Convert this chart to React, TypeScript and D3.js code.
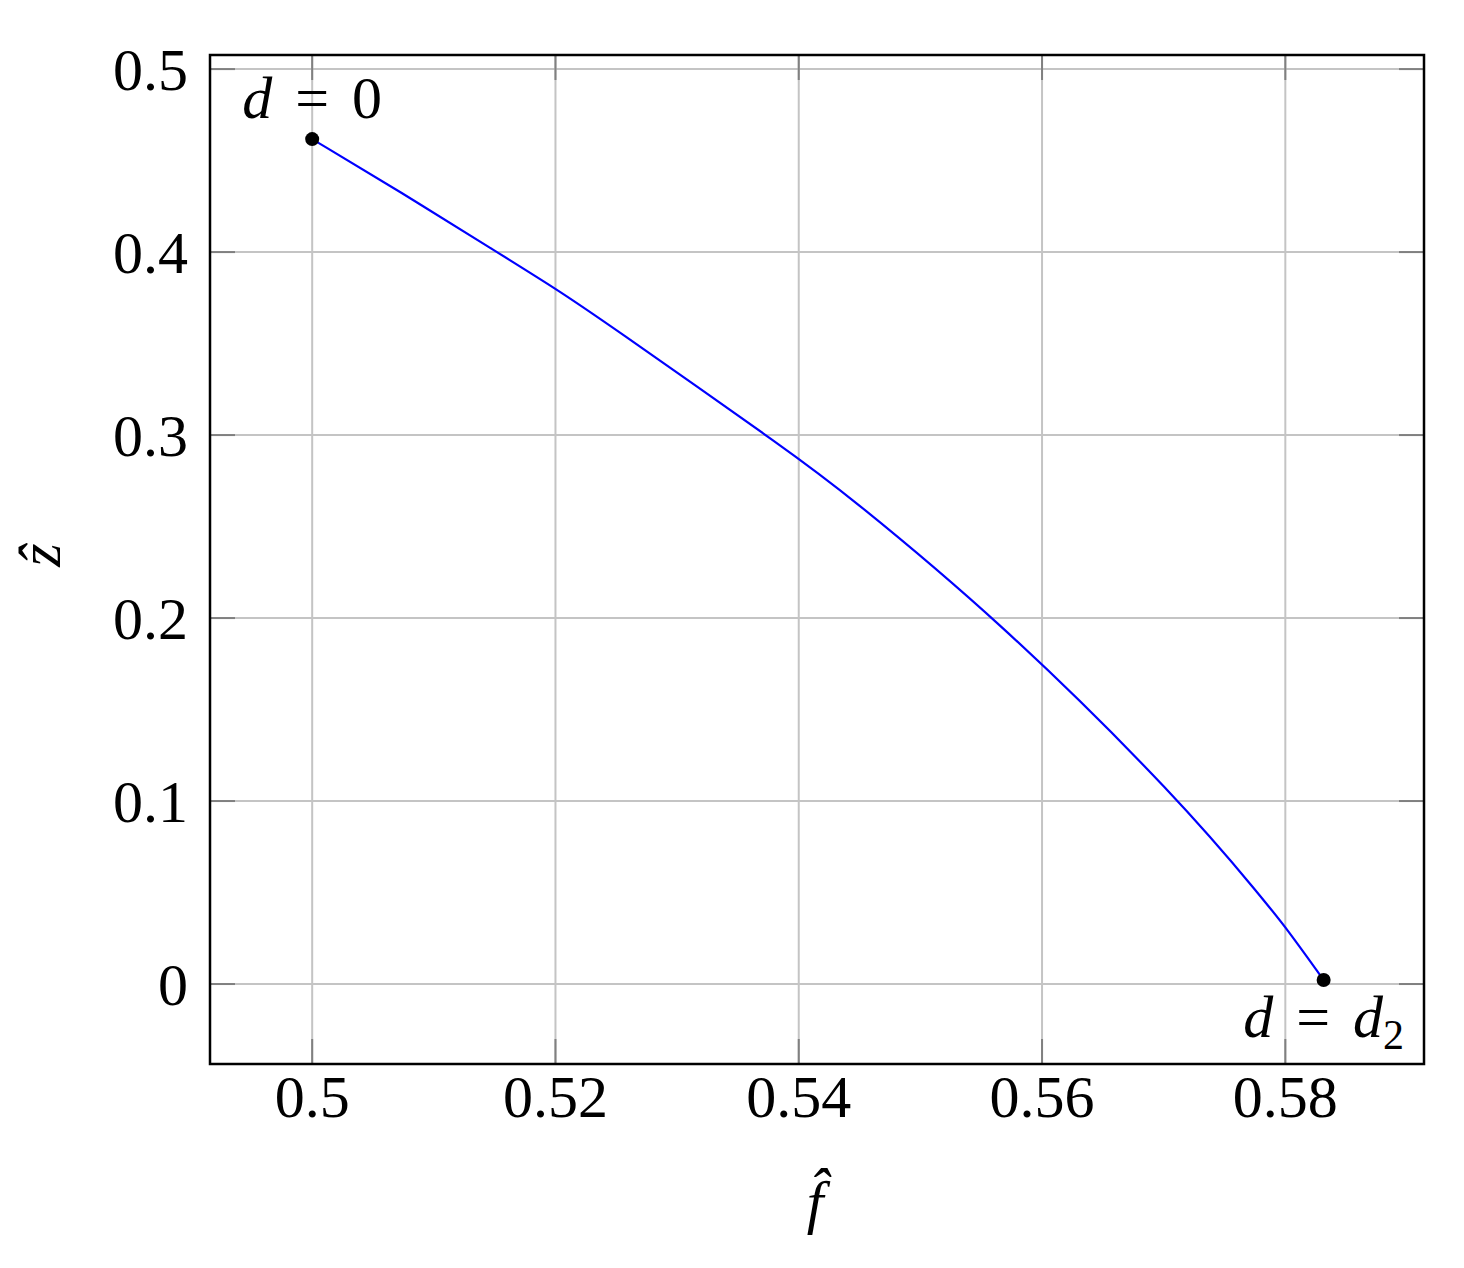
import React, { useEffect, useRef } from 'react';
import * as d3 from 'd3';

// curve: f-hat vs z-hat
const fHat = [0.5, 0.50724, 0.51519, 0.51998, 0.52368, 0.53996, 0.54341, 0.5563, 0.57145, 0.57822, 0.58, 0.58315];
const zHat = [0.46175, 0.43295, 0.4, 0.38016, 0.36377, 0.2876, 0.27033, 0.2, 0.1, 0.0459, 0.03131, 0.00219];

const xTicks = [0.5, 0.52, 0.54, 0.56, 0.58];
const yTicks = [0, 0.1, 0.2, 0.3, 0.4, 0.5];
const xTickLabels = ['0.5', '0.52', '0.54', '0.56', '0.58'];
const yTickLabels = ['0', '0.1', '0.2', '0.3', '0.4', '0.5'];

const FONT = '"Liberation Serif", "DejaVu Serif", serif';

export default function App() {
  const ref = useRef<SVGSVGElement>(null);

  useEffect(() => {
    const node = ref.current;
    if (!node) return;
    const svg = d3.select(node);
    svg.selectAll('*').remove();

    const left = 210, right = 1424, top = 55, bottom = 1064;

    const x = d3.scaleLinear().domain([0.4916, 0.5914]).range([left, right]);
    const y = d3.scaleLinear().domain([-0.0437, 0.5077]).range([bottom, top]);

    const grid = svg.append('g');
    grid.selectAll('line.vx')
      .data(xTicks)
      .enter()
      .append('line')
      .attr('x1', d => x(d)).attr('x2', d => x(d))
      .attr('y1', top).attr('y2', bottom)
      .attr('stroke', '#c4c4c4').attr('stroke-width', 2);
    grid.selectAll('line.hy')
      .data(yTicks)
      .enter()
      .append('line')
      .attr('y1', d => y(d)).attr('y2', d => y(d))
      .attr('x1', left).attr('x2', right)
      .attr('stroke', '#c4c4c4').attr('stroke-width', 2);

    // inner tick marks on all four sides
    const tl = 25;
    const ticks = svg.append('g').attr('stroke', '#808080').attr('stroke-width', 2);
    xTicks.forEach(t => {
      ticks.append('line').attr('x1', x(t)).attr('x2', x(t)).attr('y1', bottom).attr('y2', bottom - tl);
      ticks.append('line').attr('x1', x(t)).attr('x2', x(t)).attr('y1', top).attr('y2', top + tl);
    });
    yTicks.forEach(t => {
      ticks.append('line').attr('y1', y(t)).attr('y2', y(t)).attr('x1', left).attr('x2', left + tl);
      ticks.append('line').attr('y1', y(t)).attr('y2', y(t)).attr('x1', right).attr('x2', right - tl);
    });

    const pts = fHat.map((f, i) => [f, zHat[i]] as [number, number]);
    const line = d3.line<[number, number]>()
      .x(d => x(d[0]))
      .y(d => y(d[1]))
      .curve(d3.curveBasis);

    svg.append('path')
      .datum(pts)
      .attr('d', line)
      .attr('fill', 'none')
      .attr('stroke', '#0000ff')
      .attr('stroke-width', 2.2);

    const ends = [pts[0], pts[pts.length - 1]];
    svg.selectAll('circle.end')
      .data(ends)
      .enter()
      .append('circle')
      .attr('cx', d => x(d[0]))
      .attr('cy', d => y(d[1]))
      .attr('r', 7)
      .attr('fill', '#000');

    svg.append('rect')
      .attr('x', left).attr('y', top)
      .attr('width', right - left).attr('height', bottom - top)
      .attr('fill', 'none').attr('stroke', '#000').attr('stroke-width', 2.5);

    // tick labels
    svg.append('g')
      .selectAll('text')
      .data(xTicks)
      .enter()
      .append('text')
      .attr('x', d => x(d))
      .attr('y', 1117)
      .attr('text-anchor', 'middle')
      .attr('font-family', FONT)
      .attr('font-size', 60)
      .text((d, i) => xTickLabels[i]);

    svg.append('g')
      .selectAll('text')
      .data(yTicks)
      .enter()
      .append('text')
      .attr('x', 188)
      .attr('y', d => y(d) + 21)
      .attr('text-anchor', 'end')
      .attr('font-family', FONT)
      .attr('font-size', 60)
      .text((d, i) => yTickLabels[i]);

    // axis labels
    svg.append('text')
      .attr('x', 815)
      .attr('y', 1222)
      .attr('text-anchor', 'middle')
      .attr('font-family', FONT)
      .attr('font-style', 'italic')
      .attr('font-size', 60)
      .text('f\u0302');

    svg.append('text')
      .attr('transform', 'translate(60,555) rotate(-90)')
      .attr('text-anchor', 'middle')
      .attr('font-family', FONT)
      .attr('font-style', 'italic')
      .attr('font-size', 60)
      .text('\u1E91');

    // point annotations
    const a0 = svg.append('text')
      .attr('x', x(pts[0][0]))
      .attr('y', 118)
      .attr('text-anchor', 'middle')
      .attr('font-family', FONT)
      .attr('font-size', 60);
    a0.append('tspan').attr('font-style', 'italic').text('d');
    a0.append('tspan').attr('dx', 8).text(' =');
    a0.append('tspan').attr('dx', 8).text(' 0');

    const last = pts[pts.length - 1];
    const a1 = svg.append('text')
      .attr('x', x(last[0]))
      .attr('y', 1037)
      .attr('text-anchor', 'middle')
      .attr('font-family', FONT)
      .attr('font-size', 60);
    a1.append('tspan').attr('font-style', 'italic').text('d');
    a1.append('tspan').attr('dx', 8).text(' =');
    a1.append('tspan').attr('dx', 8).attr('font-style', 'italic').text(' d');
    a1.append('tspan').attr('font-size', 42).attr('dy', 12).text('2');
  }, []);

  return (
    <svg
      ref={ref}
      width={1464}
      height={1268}
      style={{ position: 'absolute', left: 0, top: 0, background: '#fff' }}
    />
  );
}
